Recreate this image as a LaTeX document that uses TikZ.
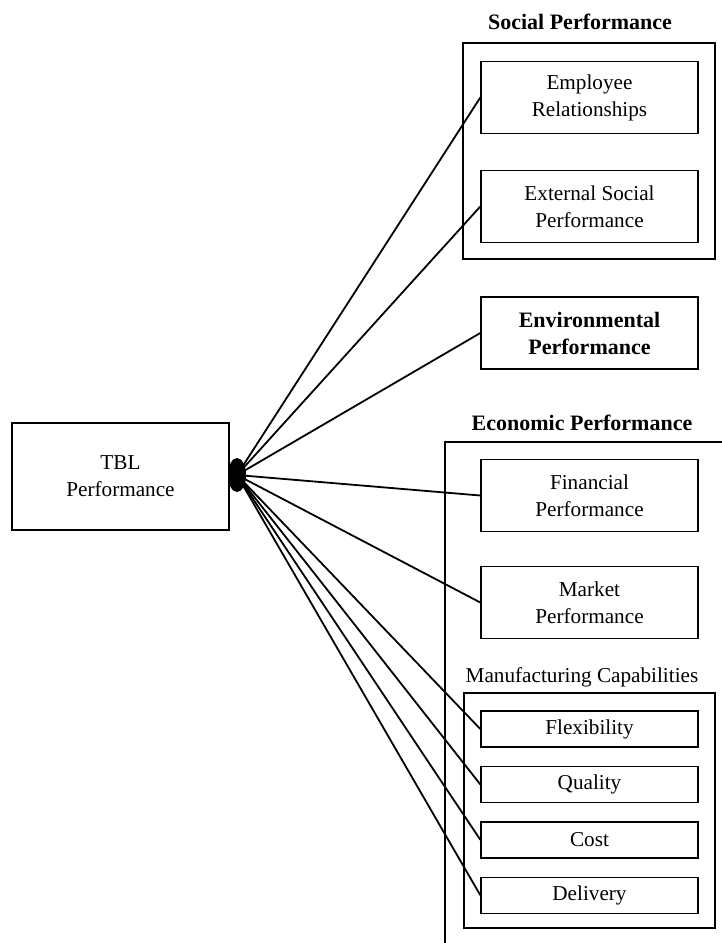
\documentclass[tikz,border=0pt]{standalone}
\usepackage{fontspec}
\setmainfont{Liberation Serif}
\usetikzlibrary{positioning, shapes.geometric}

\tikzset{
    perfbox/.style={draw, line width=0.7pt, align=center, inner sep=0pt,
        minimum width=108.5pt, font=\fontsize{10.6}{13.5}\selectfont},
    tallbox/.style={perfbox, minimum height=36pt},
    flatbox/.style={perfbox, minimum height=18pt},
    groupbox/.style={draw, line width=0.6pt},
    grouptitle/.style={font=\fontsize{11}{13.5}\selectfont\bfseries},
    link/.style={line width=0.9pt},
}

\begin{document}
\begin{tikzpicture}[x=0.5pt, y=-0.5pt]
    \useasboundingbox (0,0) rectangle (722,943);

    % Group frames
    \draw[groupbox] (463,43) rectangle (715,259);
    \draw[groupbox] (722,442) -- (445,442) -- (445,943);
    \draw[groupbox] (464,693) rectangle (715,928);

    % Group titles
    \node[grouptitle] (socT) at (580,22) {Social Performance};
    \node[grouptitle] (ecoT) at (582,423) {Economic Performance};
    \node[font=\fontsize{10.6}{13.5}\selectfont] (manT) at (582,677) {Manufacturing Capabilities};

    % TBL performance
    \node[perfbox, minimum height=53.5pt, line width=0.6pt] (tbl) at (120.5,476.5) {TBL\\Performance};
    \node[ellipse, fill=black, inner sep=0pt, minimum width=9pt, minimum height=17pt] (hub) at (237,475) {};

    % Social performance
    \node[tallbox] (emp) at (589.5,97.5) {Employee\\Relationships};
    \node[tallbox] (ext) at (589.5,206.5) {External Social\\Performance};

    % Environmental performance
    \node[tallbox, font=\fontsize{11}{13.5}\selectfont\bfseries] (env) at (589.5,333) {Environmental\\Performance};

    % Economic performance
    \node[tallbox] (fin) at (589.5,495.5) {Financial\\Performance};
    \node[tallbox] (mkt) at (589.5,602.5) {Market\\Performance};
    \node[flatbox] (flex) at (589.5,729) {Flexibility};
    \node[flatbox, below=9pt of flex] (qual) {Quality};
    \node[flatbox, below=9pt of qual] (cost) {Cost};
    \node[flatbox, below=9pt of cost] (deliv) {Delivery};

    % Links
    \foreach \t in {emp, ext, env, fin, mkt, flex, qual, cost, deliv}
        \draw[link] (hub.center) -- (\t.west);
\end{tikzpicture}
\end{document}
